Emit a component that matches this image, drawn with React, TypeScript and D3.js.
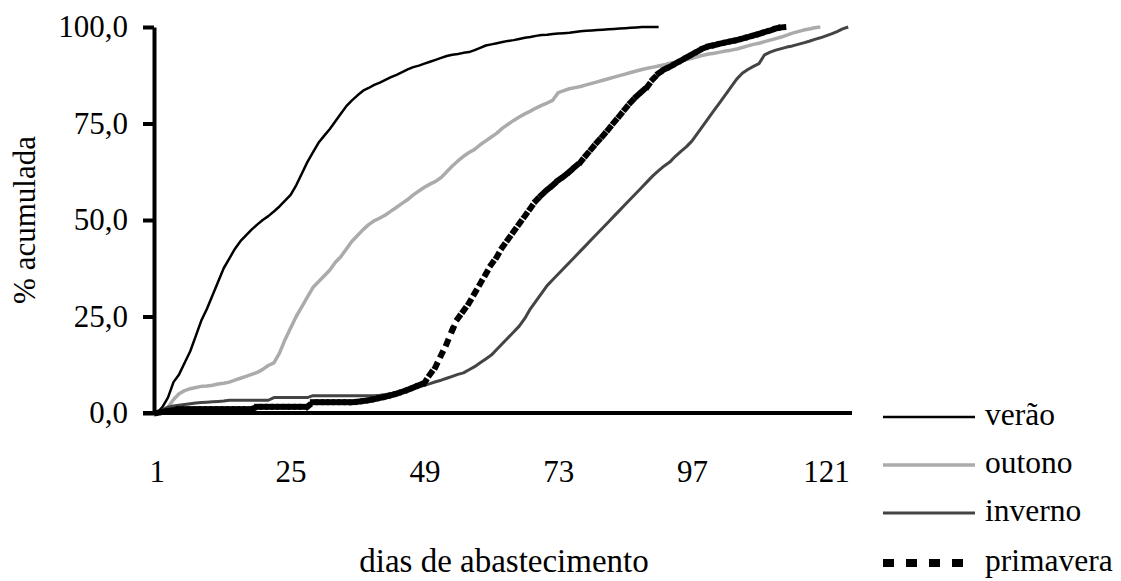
import React, { useRef, useEffect } from 'react';
import * as d3 from 'd3';

// % acumulada por dia de abastecimento (dia 1 = primeiro valor)
const verao = [
  0, 1.5, 4, 8, 10, 13, 16, 20, 24, 27,
  30.5, 34, 37.5, 40, 42.5, 44.5, 46, 47.5, 48.8, 50,
  51, 52.2, 53.5, 55, 56.5, 59, 62, 65, 67.5, 70,
  71.8, 73.5, 75.5, 77.5, 79.5, 81, 82.3, 83.5, 84.2, 85,
  85.6, 86.3, 87, 87.6, 88.3, 89, 89.6, 90, 90.5, 91,
  91.5, 92, 92.5, 92.8, 93, 93.3, 93.5, 94, 94.6, 95.2,
  95.5, 95.8, 96.1, 96.4, 96.6, 96.9, 97.2, 97.4, 97.7, 97.9,
  98, 98.2, 98.3, 98.4, 98.5, 98.7, 98.9, 99, 99.1, 99.2,
  99.3, 99.4, 99.5, 99.6, 99.7, 99.8, 99.9, 100, 100, 100,
  100,
];

const outono = [
  0, 0.5, 1.5, 3.5, 5, 5.8, 6.3, 6.6, 6.9, 7,
  7.2, 7.5, 7.7, 8, 8.5, 9, 9.5, 10, 10.5, 11.3,
  12.3, 13, 15.5, 19, 22, 25, 27.5, 30, 32.5, 34,
  35.5, 37, 39, 40.5, 42.5, 44.5, 46, 47.5, 48.8, 49.8,
  50.5, 51.3, 52.3, 53.3, 54.3, 55.3, 56.5, 57.5, 58.5, 59.3,
  60, 61, 62.5, 64, 65.3, 66.5, 67.5, 68.3, 69.5, 70.5,
  71.5, 72.5, 73.8, 74.8, 75.8, 76.7, 77.5, 78.2, 79, 79.7,
  80.3, 81, 83, 83.5, 84, 84.3, 84.6, 85, 85.4, 85.8,
  86.2, 86.6, 87, 87.4, 87.8, 88.2, 88.6, 89, 89.3, 89.6,
  89.9, 90.2, 90.6, 90.9, 91.2, 91.6, 91.9, 92.3, 92.7, 93,
  93.2, 93.5, 93.8, 94, 94.3, 94.7, 95.1, 95.5, 95.8, 96.2,
  96.6, 97, 97.4, 97.9, 98.4, 98.8, 99.2, 99.5, 99.8, 100,
];

const inverno = [
  0, 0.8, 1.5, 1.8, 2, 2.2, 2.4, 2.6, 2.7, 2.8,
  2.9, 3, 3.1, 3.3, 3.3, 3.3, 3.3, 3.3, 3.3, 3.3,
  3.3, 4, 4, 4, 4, 4, 4, 4, 4.5, 4.5,
  4.5, 4.5, 4.5, 4.5, 4.5, 4.5, 4.5, 4.5, 4.5, 4.5,
  4.6, 4.8, 5, 5.3, 5.6, 6, 6.4, 6.8, 7.2, 7.6,
  8.1, 8.5, 9, 9.5, 10, 10.4, 11.2, 12, 13, 14,
  15, 16.5, 18, 19.5, 21, 22.5, 24.5, 27, 29, 31,
  33, 34.5, 36, 37.5, 39, 40.5, 42, 43.5, 45, 46.5,
  48, 49.5, 51, 52.5, 54, 55.5, 57, 58.5, 60, 61.5,
  62.8, 64, 65, 66.5, 67.8, 69, 70.5, 72.5, 74.5, 76.5,
  78.5, 80.5, 82.5, 84.5, 86.5, 88, 89, 89.8, 90.5, 92.8,
  93.5, 94, 94.4, 94.8, 95.1, 95.5, 95.9, 96.3, 96.8, 97.2,
  97.7, 98.2, 98.8, 99.5, 100,
];

const primavera = [
  0, 0.3, 0.5, 0.7, 1, 1, 1, 1, 1, 1,
  1, 1, 1, 1, 1, 1, 1, 1, 1.6, 1.6,
  1.6, 1.6, 1.6, 1.6, 1.6, 1.6, 1.6, 1.6, 2.8, 2.8,
  2.8, 2.8, 2.8, 2.8, 2.8, 2.8, 2.9, 3.1, 3.3, 3.6,
  3.9, 4.2, 4.6, 5, 5.5, 6, 6.6, 7.2, 7.8, 10,
  12, 15, 18, 21.5, 24.5, 26.5, 28.5, 31, 33.5, 36,
  38.5, 40.5, 43, 45, 47, 49, 51, 53, 55, 56.5,
  57.8, 59, 60.3, 61.3, 62.5, 63.8, 65, 66.8, 68.5, 70.2,
  71.8, 73.5, 75.3, 77, 78.8, 80.5, 82, 83.3, 84.6, 86.5,
  88, 89, 89.7, 90.5, 91.3, 92.1, 92.9, 93.7, 94.5, 95,
  95.3, 95.7, 96, 96.3, 96.6, 97, 97.4, 97.8, 98.2, 98.7,
  99.1, 99.6, 99.9, 100,
];

const seriesNames = ['verão', 'outono', 'inverno', 'primavera'];
const seriesValues = [verao, outono, inverno, primavera];
const yTicks = [0, 25, 50, 75, 100];
const xTicks = [1, 25, 49, 73, 97, 121];
const dayCount = 125;

const styles = [
  { stroke: '#000', width: 2.5, dash: null },
  { stroke: '#ababab', width: 3.5, dash: null },
  { stroke: '#444', width: 3, dash: null },
  { stroke: '#000', width: 6, dash: '2,12' },
];

const FONT = '"Liberation Serif", "Times New Roman", serif';

const App = () => {
  const ref = useRef(null);

  useEffect(() => {
    const svg = d3.select(ref.current);
    svg.selectAll('*').remove();

    const x = d3.scaleLinear().domain([0.5, dayCount + 0.5]).range([154, 851]);
    const y = d3.scaleLinear().domain([0, 100]).range([413, 27]);
    const fmt = d3.formatLocale({ decimal: ',', thousands: '.', grouping: [3], currency: ['', ''] }).format('.1f');

    // eixo y
    const yAxis = svg.append('g')
      .attr('transform', `translate(${x.range()[0]},0)`)
      .call(d3.axisLeft(y).tickValues(yTicks).tickSize(11).tickSizeOuter(0).tickPadding(15).tickFormat(fmt));
    yAxis.select('.domain').attr('stroke', '#000').attr('stroke-width', 4);
    yAxis.selectAll('.tick line').attr('stroke', '#000').attr('stroke-width', 4);
    yAxis.selectAll('.tick text')
      .attr('fill', '#000')
      .style('font-family', FONT)
      .style('font-size', '31px');

    // eixo x
    const xAxis = svg.append('g')
      .attr('transform', `translate(0,${y(0)})`)
      .call(d3.axisBottom(x).tickValues(xTicks).tickSize(0).tickPadding(47).tickFormat(d3.format('d')));
    xAxis.select('.domain').remove();
    xAxis.selectAll('.tick text')
      .attr('fill', '#000')
      .style('font-family', FONT)
      .style('font-size', '31px');
    svg.append('line')
      .attr('x1', x.range()[0] - 11)
      .attr('x2', x.range()[1] + 1)
      .attr('y1', y(0))
      .attr('y2', y(0))
      .attr('stroke', '#000')
      .attr('stroke-width', 4);

    // séries
    const line = d3.line<number>()
      .x((d, i) => x(i + 1))
      .y(d => y(d));

    seriesValues.forEach((vals, s) => {
      const st = styles[s];
      if (st.dash) {
        // o Excel recomeça o tracejado em cada segmento
        const segs = d3.pairs(vals.map((v, i) => [i, v]));
        svg.append('g')
          .selectAll('path')
          .data(segs)
          .enter()
          .append('path')
          .attr('d', p => d3.line()([[x(p[0][0] + 1), y(p[0][1])], [x(p[1][0] + 1), y(p[1][1])]]))
          .attr('fill', 'none')
          .attr('stroke', st.stroke)
          .attr('stroke-width', st.width)
          .attr('stroke-dasharray', st.dash)
          .attr('stroke-linecap', 'square');
      } else {
        svg.append('path')
          .datum(vals)
          .attr('d', line)
          .attr('fill', 'none')
          .attr('stroke', st.stroke)
          .attr('stroke-width', st.width)
          .attr('stroke-linejoin', 'round');
      }
    });

    // títulos dos eixos
    svg.append('text')
      .attr('transform', 'translate(35,220) rotate(-90)')
      .attr('text-anchor', 'middle')
      .style('font-family', FONT)
      .style('font-size', '31px')
      .text('% acumulada');

    svg.append('text')
      .attr('x', 504)
      .attr('y', 572)
      .attr('text-anchor', 'middle')
      .style('font-family', FONT)
      .style('font-size', '33px')
      .text('dias de abastecimento');

    // legenda
    const legendY = [417, 465, 513, 563];
    const legend = svg.append('g');
    seriesNames.forEach((name, i) => {
      const st = styles[i];
      legend.append('line')
        .attr('x1', 883)
        .attr('x2', 975)
        .attr('y1', legendY[i])
        .attr('y2', legendY[i])
        .attr('stroke', st.stroke)
        .attr('stroke-width', st.dash ? 8 : st.width)
        .attr('stroke-dasharray', st.dash ? '11,12' : null);
      legend.append('text')
        .attr('x', 985)
        .attr('y', legendY[i] + 8)
        .style('font-family', FONT)
        .style('font-size', '31.5px')
        .text(name);
    });
  }, []);

  return (
    <svg
      ref={ref}
      width={1121}
      height={581}
      style={{ position: 'absolute', left: 0, top: 0, background: '#fff' }}
    />
  );
};

export default App;
